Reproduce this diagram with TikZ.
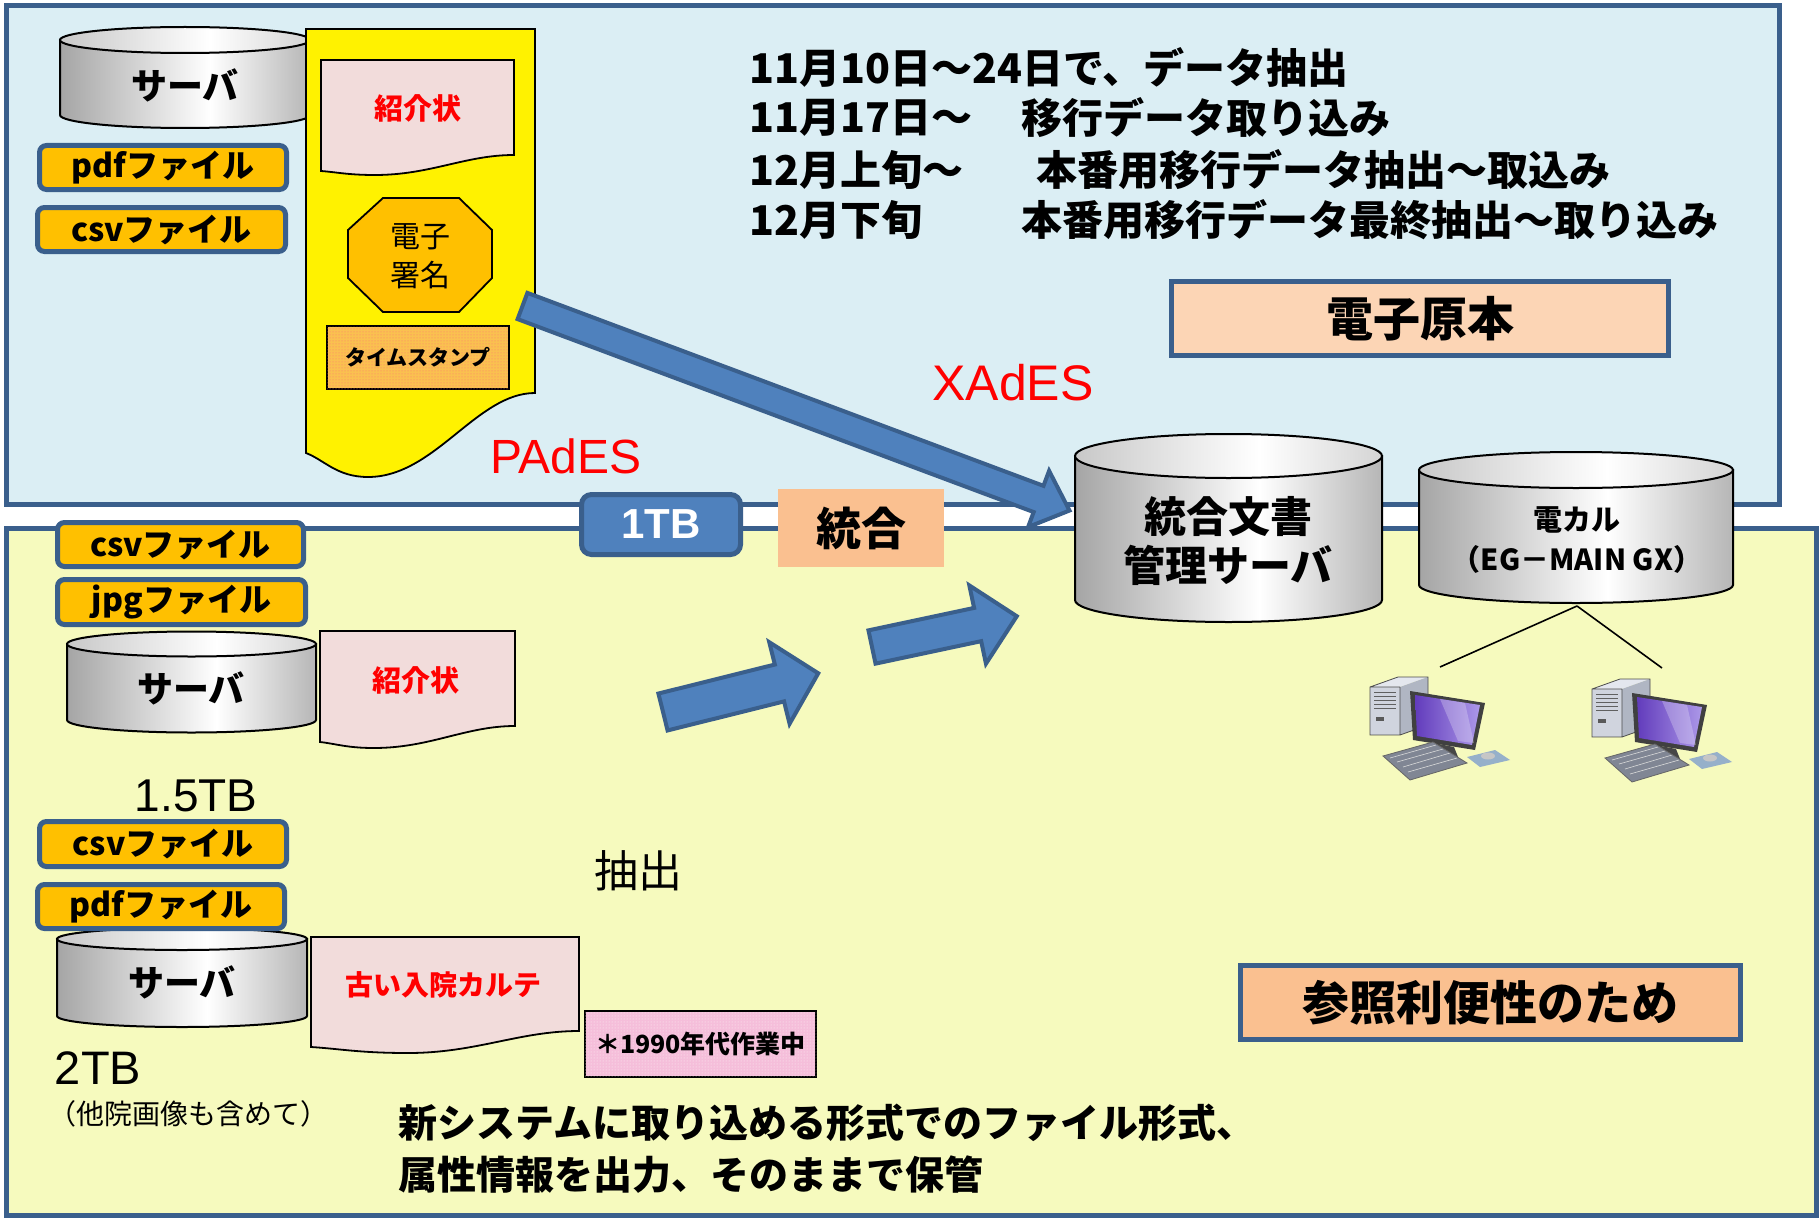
\documentclass[tikz,border=0pt]{standalone}
\usepackage{fontspec}
\setmainfont{Liberation Sans}
\newfontfamily\jp{Noto Sans CJK JP}
\usetikzlibrary{patterns}

\definecolor{edgeblue}{RGB}{58,95,140}
\definecolor{topbg}{RGB}{219,238,244}
\definecolor{lowbg}{RGB}{246,250,190}
\definecolor{arrowblue}{RGB}{79,129,189}
\definecolor{fileorange}{RGB}{255,192,0}
\definecolor{peach}{RGB}{250,192,144}
\definecolor{lightpeach}{RGB}{252,213,181}
\definecolor{docpink}{RGB}{242,220,219}
\definecolor{stampbase}{RGB}{250,192,80}
\definecolor{notepink}{RGB}{245,190,218}
\definecolor{cyldark}{RGB}{165,165,165}
\definecolor{cylright}{RGB}{182,182,182}
\definecolor{cyltopl}{RGB}{200,200,200}
\definecolor{cyltopr}{RGB}{212,212,212}
\definecolor{pctop}{RGB}{228,231,238}
\definecolor{pcside}{RGB}{176,182,195}
\definecolor{pcfront}{RGB}{208,212,222}
\definecolor{scrA}{RGB}{98,60,188}
\definecolor{scrB}{RGB}{172,152,232}
\definecolor{kbd}{RGB}{128,134,148}
\definecolor{padc}{RGB}{150,176,202}

\pgfdeclarehorizontalshading{cylbody}{100bp}{color(0bp)=(cyldark); color(25bp)=(cyldark); color(55bp)=(white); color(75bp)=(cylright); color(100bp)=(cylright)}
\pgfdeclarehorizontalshading{cyltop}{100bp}{color(0bp)=(cyltopl); color(25bp)=(cyltopl); color(55bp)=(white); color(75bp)=(cyltopr); color(100bp)=(cyltopr)}

\newcommand{\px}[1]{\fontsize{#1pt}{#1pt}\selectfont}
\newcommand{\pxl}[2]{\fontsize{#1pt}{#2pt}\selectfont}

% cylinder: x-left, x-right, y of top ellipse centre, y of bottom ellipse centre, y radius
\newcommand{\cyl}[5]{%
  \pgfmathsetmacro\cylcx{(#1+#2)/2}%
  \pgfmathsetmacro\cylrx{(#2-#1)/2}%
  \path[shade, draw=black, line width=2pt, shading=cylbody]
    (#1,#3) -- (#1,#4)
    .. controls (#1,{#4+0.552*#5}) and ({\cylcx-0.552*\cylrx},{#4+#5}) .. (\cylcx,{#4+#5})
    .. controls ({\cylcx+0.552*\cylrx},{#4+#5}) and (#2,{#4+0.552*#5}) .. (#2,#4)
    -- (#2,#3) -- cycle;
  \path[shade, draw=black, line width=2pt, shading=cyltop]
    (\cylcx,#3) ellipse [x radius=\cylrx, y radius=#5];
}

% document sheet with wavy lower edge: options, x1, x2, top, right end, left end, dip x, dip y
\newcommand{\docshape}[8][]{%
  \path[#1] (#2,#4) -- (#3,#4) -- (#3,#5)
    .. controls ({#3-0.35*(#3-#7)},#5) and ({#7+0.4*(#3-#7)},#8) .. (#7,#8)
    .. controls ({#7-0.5*(#7-#2)},#8) and ({#2+0.3*(#7-#2)},{#6+0.3*(#8-#6)}) .. (#2,#6)
    -- cycle;
}

\tikzset{
  pc/.pic={
    % tower
    \fill[pctop] (0,14) -- (28,4) -- (58,4) -- (30,14) -- cycle;
    \fill[pcside] (30,14) -- (58,4) -- (58,52) -- (30,62) -- cycle;
    \fill[pcfront] (0,14) rectangle (30,62);
    \draw[gray!60!black, line width=0.8pt] (0,14) -- (28,4) -- (58,4) -- (58,52) -- (30,62) -- (0,62) -- cycle (30,14) -- (30,62) (0,14) -- (30,14);
    \foreach \yy in {19,23,27,31,35}
      \draw[gray!75!black, line width=1pt] (4,\yy) -- (26,\yy);
    \fill[gray!70!black] (6,44) rectangle (14,48);
    % monitor
    \fill[gray!55!black] (64,70) -- (84,74) -- (88,84) -- (62,80) -- cycle;
    \fill[black!75] (40,18) -- (115,30) -- (105,77) -- (43,67) -- cycle;
    \shade[left color=scrA, right color=scrB] (45,22) -- (110,32) -- (102,72) -- (47,63) -- cycle;
    \fill[white, opacity=0.25] (70,26) -- (95,30) -- (104,70) -- (88,68) -- cycle;
    % keyboard
    \fill[kbd] (13,83) -- (63,69) -- (97,90) -- (40,107) -- cycle;
    \draw[gray!30, line width=0.6pt] (20,85) -- (66,72) (27,89) -- (73,76) (33,94) -- (80,80) (38,99) -- (87,85);
    \draw[black!60, line width=0.8pt] (13,83) -- (63,69) -- (97,90) -- (40,107) -- cycle;
    % mouse pad and mouse
    \fill[padc] (97,84) -- (125,77) -- (140,87) -- (110,94) -- cycle;
    \fill[gray!45] (118,83) ellipse [x radius=7, y radius=3.5];
  }
}

\begin{document}
\begin{tikzpicture}[x=1pt,y=-1pt,
  panelbox/.style={draw=edgeblue, line width=5pt},
  filebox/.style={draw=edgeblue, line width=5pt, fill=fileorange, rounded corners=7pt,
    inner sep=0pt, font=\jp\bfseries\px{32}},
  docbox/.style={draw=black, line width=1.8pt},
  redlbl/.style={inner sep=0pt, text=red, font=\jp\bfseries\px{29}},
  cyllbl/.style={inner sep=0pt, align=center, font=\jp\bfseries\px{36}},
  sched/.style={inner sep=0pt, anchor=west, font=\jp\bfseries\px{41}},
  tagbox/.style={draw=edgeblue, line width=5pt, inner sep=0pt, font=\jp\bfseries\px{47}},
  fatarrow/.style={fill=arrowblue, draw=edgeblue, line width=4pt, line join=miter},
  txt/.style={inner sep=0pt},
  wire/.style={draw=black, line width=1.6pt}
]
\useasboundingbox (0,0) rectangle (1820,1220);
\fill[white] (0,0) rectangle (1820,1220);

% the two areas
\draw[panelbox, fill=topbg] (6,6) rectangle (1779,504);
\draw[panelbox, fill=lowbg] (6,528) rectangle (1816,1215);

% ---------- upper area ----------
\cyl{60}{310}{40}{115}{13}
\node[cyllbl] (srvA) at (185,85) {サーバ};
\node[filebox, minimum width=247pt, minimum height=44pt] (pdfA) at (163,167.5) {pdfファイル};
\node[filebox, minimum width=248pt, minimum height=44pt] (csvA) at (161.5,229.5) {csvファイル};

\docshape[docbox, fill=yellow]{306}{535}{29}{393}{453}{368}{477}
\docshape[docbox, fill=docpink]{321}{514}{60}{155}{171}{375}{175}
\node[redlbl] (introA) at (418,108) {紹介状};

\draw[fill=fileorange, draw=black, line width=1.8pt]
  (383,198) -- (459,198) -- (492,230) -- (492,278) -- (459,312) -- (383,312) -- (348,278) -- (348,230) -- cycle;
\node[txt, align=center, font=\jp\pxl{30}{39}] (esig) at (420,256) {電子\\署名};

\node[draw=black, line width=1.6pt, fill=stampbase, postaction={pattern=dots, pattern color=red!55},
  minimum width=182pt, minimum height=63pt, inner sep=0pt, font=\jp\bfseries\px{21}] (stamp) at (418,357.5) {タイムスタンプ};

\node[txt, text=red, font=\px{48}] (pades) at (566,456) {PAdES};
\node[txt, text=red, font=\px{50}] (xades) at (1013,383) {XAdES};

\node[sched] (s1) at (749,67) {11月10日～24日で、データ抽出};
\node[sched] (s2a) at (749,118) {11月17日～};
\node[sched] (s2b) at (1021,118) {移行データ取り込み};
\node[sched] (s3a) at (749,170) {12月上旬～};
\node[sched] (s3b) at (1036,170) {本番用移行データ抽出～取込み};
\node[sched] (s4a) at (749,220) {12月下旬};
\node[sched] (s4b) at (1021,220) {本番用移行データ最終抽出～取り込み};

\node[tagbox, fill=lightpeach, minimum width=497pt, minimum height=74pt] (orig) at (1420,318.5) {電子原本};

% ---------- lower area ----------
\node[filebox, minimum width=246pt, minimum height=44pt] (csvB) at (180.5,544.5) {csvファイル};
\node[filebox, minimum width=248pt, minimum height=45pt] (jpgB) at (181.5,602) {jpgファイル};
\cyl{67}{316}{644}{720}{12.5}
\node[cyllbl] (srvB) at (191,688) {サーバ};
\docshape[docbox, fill=docpink]{320}{515}{631}{726}{742}{374}{748}
\node[redlbl] (introB) at (416,680) {紹介状};
\node[txt, font=\px{46}] (tb15) at (196,796) {1.5TB};

\cyl{57}{307}{939}{1016}{11}
\node[cyllbl] (srvC) at (182,982) {サーバ};
\node[filebox, minimum width=247pt, minimum height=45pt] (csvC) at (163,844) {csvファイル};
\node[filebox, minimum width=247pt, minimum height=44pt] (pdfC) at (161,906.5) {pdfファイル};
\docshape[docbox, fill=docpink]{311}{579}{937}{1031}{1047}{408}{1053}
\node[redlbl, font=\jp\bfseries\px{28}] (karte) at (443,985) {古い入院カルテ};
\node[draw=black, line width=1.8pt, fill=notepink, postaction={pattern=dots, pattern color=white!85!pink},
  minimum width=231pt, minimum height=66pt, inner sep=0pt, font=\jp\bfseries\px{25}] (note) at (700.5,1044) {＊1990年代作業中};
\node[txt, font=\px{47}] (tb2) at (98,1068) {2TB};
\node[txt, font=\jp\px{28}] (other) at (188,1114) {（他院画像も含めて）};
\node[txt, font=\jp\px{44}] (extract) at (638,871) {抽出};
\node[txt, anchor=west, font=\jp\bfseries\px{39}] (b1) at (398,1123) {新システムに取り込める形式でのファイル形式、};
\node[txt, anchor=west, font=\jp\bfseries\px{39}] (b2) at (398,1175) {属性情報を出力、そのままで保管};

\node[tagbox, fill=peach, minimum width=500pt, minimum height=74pt] (ref) at (1490.5,1002.5) {参照利便性のため};

% ---------- servers on the boundary ----------
\cyl{1075}{1382}{456}{600}{22}
\node[cyllbl, font=\jp\bfseries\pxl{42}{49}] (ims) at (1228,541) {統合文書\\管理サーバ};
\cyl{1419}{1733}{470}{585}{18}
\node[cyllbl, font=\jp\bfseries\pxl{29}{40}] (ekarte) at (1577,540) {電カル\\（EG－MAIN GX）};

\node[draw=edgeblue, line width=5pt, fill=arrowblue, rounded corners=10pt, inner sep=0pt,
  minimum width=159pt, minimum height=60pt, text=white, font=\bfseries\px{42}] (tb1) at (661,524.5) {1TB};
\node[fill=peach, minimum width=166pt, minimum height=78pt, inner sep=0pt, font=\jp\bfseries\px{45}] (merge) at (861,528) {統合};

% ---------- block arrows ----------
\begin{scope}[shift={(522.5,306)}, rotate=-20.5]
  \draw[fatarrow] (0,-14) -- (551,-14) -- (551,-30) -- (584,0) -- (551,30) -- (551,14) -- (0,14) -- cycle;
\end{scope}
\begin{scope}[shift={(663,712)}, rotate=14]
  \draw[fatarrow] (0,-19) -- (120,-19) -- (120,-42) -- (160,0) -- (120,42) -- (120,19) -- (0,19) -- cycle;
\end{scope}
\begin{scope}[shift={(872,647)}, rotate=12]
  \draw[fatarrow] (0,-17) -- (108,-17) -- (108,-40) -- (148,0) -- (108,40) -- (108,17) -- (0,17) -- cycle;
\end{scope}

% ---------- clients of the chart server ----------
\coordinate (ekbot) at (1577,606);
\coordinate (pcLtop) at (1440,667);
\coordinate (pcRtop) at (1662,668);
\draw[wire] (ekbot) -- (pcLtop);
\draw[wire] (ekbot) -- (pcRtop);
\pic (pcL) at (1370,673) {pc};
\pic (pcR) at (1592,675) {pc};

\end{tikzpicture}
\end{document}
